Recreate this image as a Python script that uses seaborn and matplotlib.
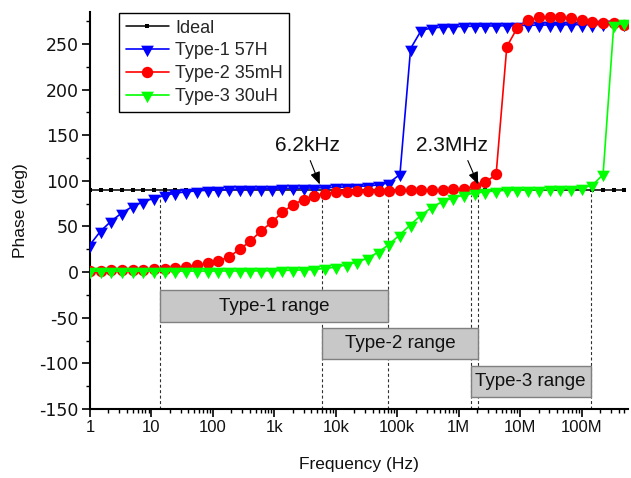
import numpy as np
import pandas as pd
import matplotlib
matplotlib.use("Agg")
import matplotlib.pyplot as plt
import seaborn as sns
from matplotlib.path import Path
from matplotlib.patches import Rectangle
from matplotlib.ticker import FixedLocator, LogLocator, MultipleLocator, NullFormatter

# ---------------- data ----------------
freq = [1, 1.493, 2.228, 3.325, 4.962, 7.406, 11.05, 16.50, 24.62, 36.75,
        54.85, 81.87, 122.2, 182.7, 272.8, 407.1, 607.7, 907.0, 1354, 2020,
        3016, 4501, 6718, 10030, 14960, 22330, 33330, 49750, 74260, 110800,
        165400, 246900, 368500, 550000, 820800, 1.225e6, 1.829e6, 2.729e6, 4.073e6, 6.080e6,
        9.074e6, 1.354e7, 2.021e7, 3.017e7, 4.503e7, 6.721e7, 1.007e8, 1.503e8, 2.244e8, 3.349e8,
        5.0e8]

ideal = [90, 90, 90, 90, 90, 90, 90, 90, 90, 90,
         90, 90, 90, 90, 90, 90, 90, 90, 90, 90,
         90, 90, 90, 90, 90, 90, 90, 90, 90, 90,
         90, 90, 90, 90, 90, 90, 90, 90, 90, 90,
         90, 90, 90, 90, 90, 90, 90, 90, 90, 90,
         90]

type1 = [30, 45, 56, 65, 72, 77, 81, 84, 86.5, 88,
         89, 89.7, 90.2, 90.5, 90.8, 91, 91.2, 91.4, 91.6, 91.8,
         92, 92.2, 92.5, 92.8, 93.2, 93.7, 94.5, 95.5, 98, 107,
         245, 265, 267.5, 268.5, 269, 269.2, 269.4, 269.6, 269.8, 270,
         270.2, 270.4, 270.6, 270.8, 271, 271.1, 271.2, 271.3, 271.4, 271.5,
         271.6]

type2 = [1.5, 1.6, 1.8, 2.0, 2.2, 2.5, 3.0, 3.7, 4.8, 6.0,
         7.6, 9.5, 12.0, 16.8, 24.8, 34.0, 45.0, 54.7, 65.6, 74.0,
         79.5, 83.8, 86.0, 87.5, 88.3, 88.8, 89.0, 89.2, 89.4, 89.5,
         89.6, 89.7, 89.8, 90.0, 90.5, 91.5, 94.0, 98.4, 107.0, 247.0,
         268.0, 276.0, 279.0, 280.0, 280.0, 278.0, 276.0, 274.0, 273.0, 272.5,
         271.0]

type3 = [1.0, 1.0, 1.0, 1.0, 1.0, 1.0, 1.0, 1.0, 1.0, 1.1,
         1.1, 1.1, 1.2, 1.2, 1.2, 1.3, 1.4, 1.5, 1.8, 2.0,
         2.5, 3.0, 4.0, 5.5, 8.0, 11.0, 15.5, 22.0, 30.5, 41.0,
         52.0, 62.5, 71.0, 77.5, 81.5, 84.5, 86.5, 88.0, 89.0, 89.5,
         89.8, 90.0, 90.3, 90.6, 91.0, 91.5, 92.5, 95.0, 107.0, 271.0,
         272.5]

series_labels = ["Ideal", "Type-1 57H", "Type-2 35mH", "Type-3 30uH"]

# frequency ranges (start, end), box phase extent (top, bottom), and curve phase at the edges
range_labels = ["Type-1 range", "Type-2 range", "Type-3 range"]
range_start = [13.8, 6000, 1.58e6]
range_end = [70000, 2.08e6, 1.4e8]
range_top = [-20, -61, -103]
range_bottom = [-55, -95, -137]
edge_phase_start = [84, 85, 85]
edge_phase_end = [89, 92, 92]

annot_text = ["6.2kHz", "2.3MHz"]
annot_freq = [5500, 2.08e6]
annot_phase = [96, 96]
annot_text_freq = [3520, 7.9e5]
annot_text_phase = [139, 139]

xtick_vals = [1, 10, 100, 1e3, 1e4, 1e5, 1e6, 1e7, 1e8]
xtick_labels = ["1", "10", "100", "1k", "10k", "100k", "1M", "10M", "100M"]

df = pd.DataFrame({"freq": freq, "ideal": ideal, "t1": type1, "t2": type2, "t3": type3})

# ---------------- style ----------------
sns.set_style("ticks")
plt.rcParams["font.family"] = ["Liberation Sans", "DejaVu Sans"]
plt.rcParams["axes.linewidth"] = 1.5
plt.rcParams["axes.unicode_minus"] = False

fig = plt.figure(figsize=(6.31, 4.78), dpi=100)
ax = fig.add_axes([0.1426, 0.1444, 0.8526, 0.8305])

# downward triangle marker, centroid at the data point
tri = Path([(-1, 0.6), (1, 0.6), (0, -1.2), (-1, 0.6)],
           [Path.MOVETO, Path.LINETO, Path.LINETO, Path.CLOSEPOLY])

sns.lineplot(data=df, x="freq", y="ideal", ax=ax, color="black", marker="s",
             markersize=3.4, markeredgewidth=0, markeredgecolor="black",
             linewidth=1.1, label=series_labels[0], zorder=3)
sns.lineplot(data=df, x="freq", y="t1", ax=ax, color="#0000ff", marker=tri,
             markersize=11, markeredgewidth=0, markeredgecolor="#0000ff",
             linewidth=1.2, label=series_labels[1], zorder=4)
sns.lineplot(data=df, x="freq", y="t2", ax=ax, color="#ff0000", marker="o",
             markersize=8.2, markeredgewidth=0, markeredgecolor="#ff0000",
             linewidth=1.2, label=series_labels[2], zorder=5)
sns.lineplot(data=df, x="freq", y="t3", ax=ax, color="#00ff00", marker=tri,
             markersize=11, markeredgewidth=0, markeredgecolor="#00ff00",
             linewidth=1.2, label=series_labels[3], zorder=6)

ax.set_xscale("log")
ax.set_xlim(1, 5.7e8)
ax.set_ylim(-150, 285)

# range boxes and dashed guide lines
for lab, x0, x1, yt, yb, p0, p1 in zip(range_labels, range_start, range_end,
                                         range_top, range_bottom,
                                         edge_phase_start, edge_phase_end):
    ax.vlines([x0, x1], [-150, -150], [p0, p1], colors="#303030", linewidth=0.8,
              linestyles=[(0, (2.7, 2.2))], zorder=2)
    ax.add_patch(Rectangle((x0, yb), x1 - x0, yt - yb, facecolor="#c8c8c8",
                           edgecolor="#808080", linewidth=1.0, zorder=2.5))
    xc = np.sqrt(x0 * x1)
    ax.text(xc, (yt + yb) / 2, lab, ha="center", va="center", fontsize=13.5,
            color="#111111", zorder=7)

# annotations
relx = [0.5, 0.68]
for t, xf, yp, xt, yt, rx in zip(annot_text, annot_freq, annot_phase,
                                 annot_text_freq, annot_text_phase, relx):
    ax.annotate(t, xy=(xf, yp), xytext=(xt, yt), ha="center", va="center",
                fontsize=15, color="#111111", zorder=8,
                arrowprops=dict(arrowstyle="-|>,head_length=0.5,head_width=0.2",
                                color="black", lw=0.8, relpos=(rx, 0.0),
                                shrinkA=2, shrinkB=0))

# axes formatting
ax.xaxis.set_major_locator(FixedLocator(xtick_vals))
ax.set_xticklabels(xtick_labels)
ax.xaxis.set_minor_locator(LogLocator(base=10, subs=np.arange(2, 10), numticks=20))
ax.xaxis.set_minor_formatter(NullFormatter())
ax.yaxis.set_major_locator(MultipleLocator(50))
ax.yaxis.set_minor_locator(MultipleLocator(25))

for s in ["top", "right"]:
    ax.spines[s].set_visible(False)
for s in ["left", "bottom"]:
    ax.spines[s].set_linewidth(1.5)
    ax.spines[s].set_color("black")

ax.tick_params(which="major", direction="out", length=5.5, width=1.2,
               labelsize=12, pad=2.5, colors="black")
ax.tick_params(which="minor", direction="out", length=3, width=1.0, colors="black")
ax.tick_params(axis="x", labelcolor="#111111")
ax.tick_params(axis="y", labelcolor="#111111")
for lbl in ax.get_yticklabels():
    lbl.set_fontfamily(["DejaVu Sans"])
    lbl.set_fontsize(12.5)

ax.set_xlabel("Frequency (Hz)", fontsize=12.5, labelpad=16, color="#111111")
ax.set_ylabel("Phase (deg)", fontsize=12.5, labelpad=8, color="#111111")
ax.grid(False)

leg = ax.legend(loc="upper left", bbox_to_anchor=(0.0545, 0.997), frameon=True,
                fancybox=False, edgecolor="black", framealpha=1, fontsize=13,
                handlelength=2.4, borderpad=0.35, labelspacing=0.33,
                handletextpad=0.35, borderaxespad=0, numpoints=1)
leg.get_frame().set_linewidth(1.0)

fig.savefig("out.png", dpi=100)
